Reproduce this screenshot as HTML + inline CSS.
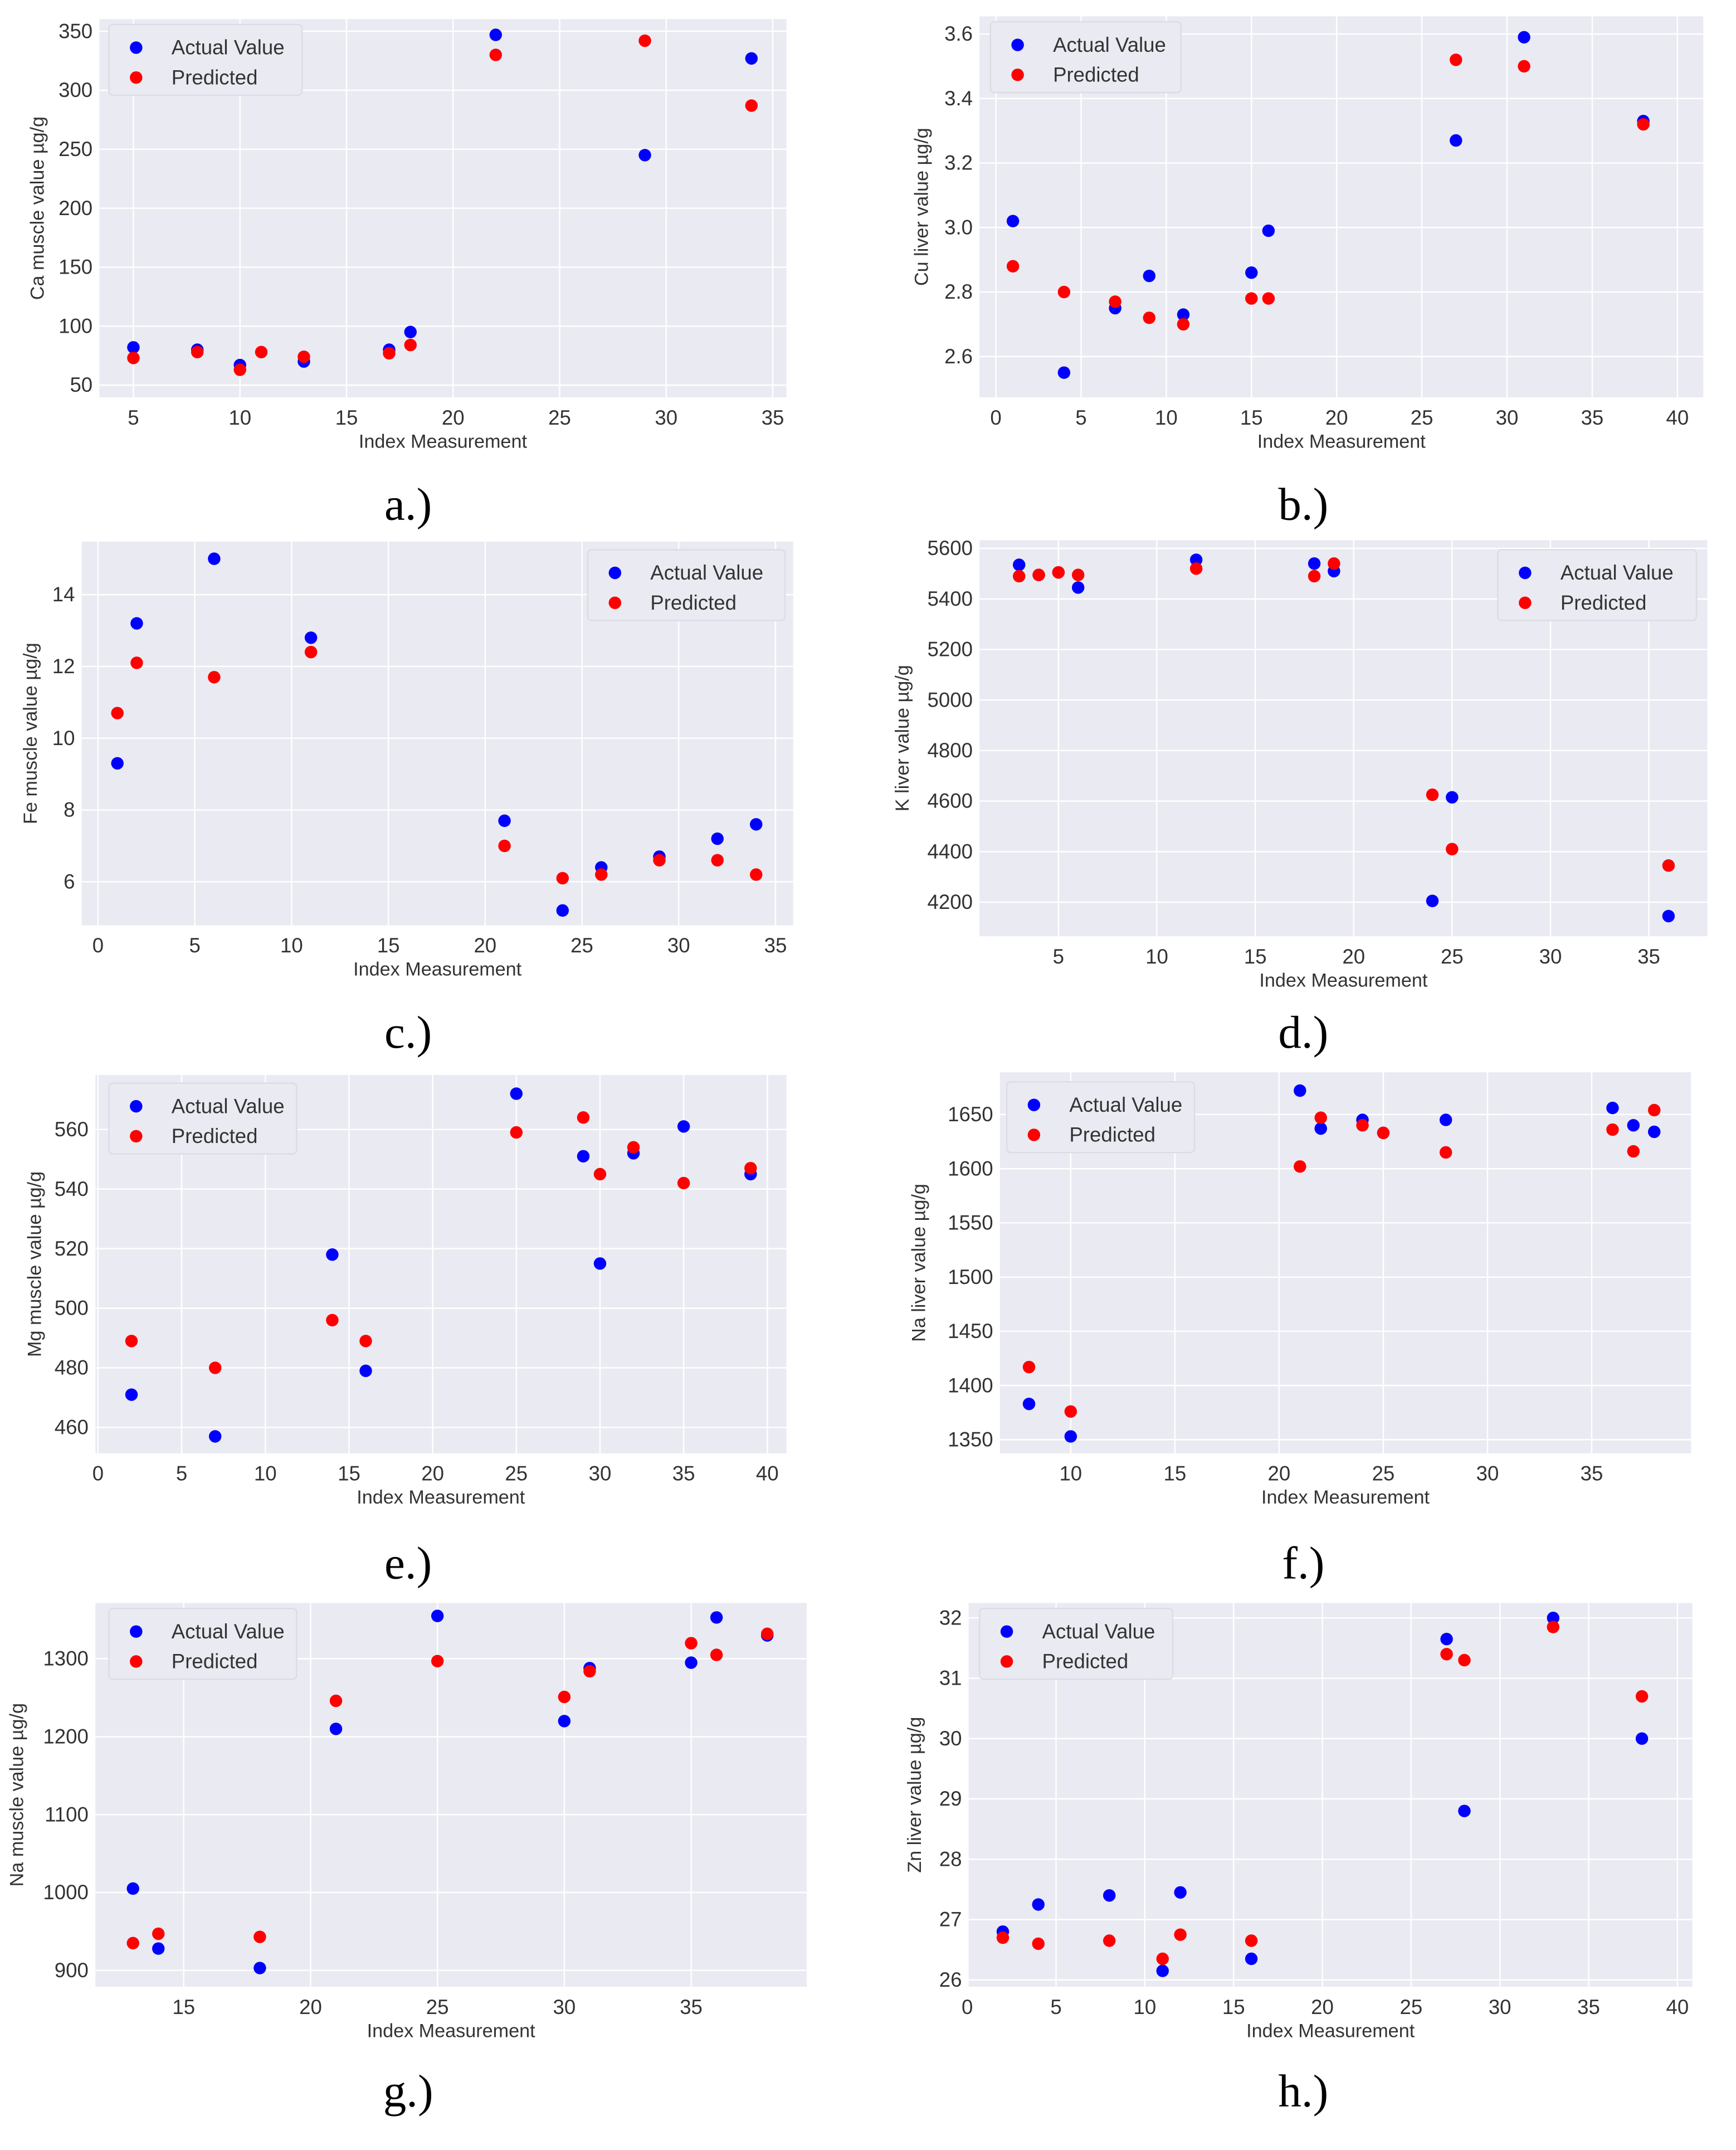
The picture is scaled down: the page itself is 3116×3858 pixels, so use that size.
<!DOCTYPE html>
<html><head><meta charset="utf-8"><style>
html,body{margin:0;padding:0;background:#fff;}
svg{display:block;}
</style></head><body>
<svg id="fig" width="3116" height="3858" viewBox="0 0 1276 1580" xmlns="http://www.w3.org/2000/svg" font-family="Liberation Sans, sans-serif"></svg>
<script>
// ---- data ----
const aActX=[5,8,10,13,17,18,22,29,34];
const aActY=[82,80,67,70,80,95,347,245,327];
const aPredX=[5,8,10,11,13,17,18,22,29,34];
const aPredY=[73,78,63,78,74,77,84,330,342,287];
const bX=[1,4,7,9,11,15,16,27,31,38];
const bAct=[3.02,2.55,2.75,2.85,2.73,2.86,2.99,3.27,3.59,3.33];
const bPred=[2.88,2.80,2.77,2.72,2.70,2.78,2.78,3.52,3.50,3.32];
const cX=[1,2,6,11,21,24,26,29,32,34];
const cAct=[9.3,13.2,15.0,12.8,7.7,5.2,6.4,6.7,7.2,7.6];
const cPred=[10.7,12.1,11.7,12.4,7.0,6.1,6.2,6.6,6.6,6.2];
const dX=[3,4,5,6,12,18,19,24,25,36];
const dAct=[5535,5495,5505,5445,5555,5540,5510,4205,4615,4145];
const dPred=[5490,5495,5505,5495,5520,5490,5540,4625,4410,4345];
const eX=[2,7,14,16,25,29,30,32,35,39];
const eAct=[471,457,518,479,572,551,515,552,561,545];
const ePred=[489,480,496,489,559,564,545,554,542,547];
const fX=[8,10,21,22,24,25,28,36,37,38];
const fAct=[1383,1353,1672,1637,1645,1633,1645,1656,1640,1634];
const fPred=[1417,1376,1602,1647,1640,1633,1615,1636,1616,1654];
const gX=[13,14,18,21,25,30,31,35,36,38];
const gAct=[1005,928,903,1210,1355,1220,1288,1295,1353,1330];
const gPred=[935,947,943,1246,1297,1251,1284,1320,1305,1332];
const hX=[2,4,8,11,12,16,27,28,33,38];
const hAct=[26.8,27.25,27.4,26.15,27.45,26.35,31.65,28.8,32.0,30.0];
const hPred=[26.7,26.6,26.65,26.35,26.75,26.65,31.4,31.3,31.85,30.7];
const aXT=[5,10,15,20,25,30,35], aYT=[50,100,150,200,250,300,350];
const bXT=[0,5,10,15,20,25,30,35,40], bYT=[2.6,2.8,3.0,3.2,3.4,3.6];
const cXT=[0,5,10,15,20,25,30,35], cYT=[6,8,10,12,14];
const dXT=[5,10,15,20,25,30,35], dYT=[4200,4400,4600,4800,5000,5200,5400,5600];
const eXT=[0,5,10,15,20,25,30,35,40], eYT=[460,480,500,520,540,560];
const fXT=[10,15,20,25,30,35], fYT=[1350,1400,1450,1500,1550,1600,1650];
const gXT=[15,20,25,30,35], gYT=[900,1000,1100,1200,1300];
const hXT=[0,5,10,15,20,25,30,35,40], hYT=[26,27,28,29,30,31,32];

const NS="http://www.w3.org/2000/svg";
const svg=document.getElementById('fig');
function mk(tag,attrs,parent){const e=document.createElementNS(NS,tag);for(const k in attrs)e.setAttribute(k,attrs[k]);(parent||svg).appendChild(e);return e;}

function panel(p){
  const g=mk('g',{});
  
  
  const X=v=>p.xa[0]+(v-p.xa[1])*(p.xa[2]-p.xa[0])/(p.xa[3]-p.xa[1]);
  const Y=v=>p.ya[0]+(v-p.ya[1])*(p.ya[2]-p.ya[0])/(p.ya[3]-p.ya[1]);
  const bg=mk('rect',{x:p.L,y:p.T,width:p.R-p.L,height:p.B-p.T,fill:'#eaeaf2'},g);
  
  
  p.xt.forEach(t=>{const x=X(t);
    mk('line',{x1:x,x2:x,y1:p.T,y2:p.B,stroke:'#fff','stroke-width':1},g);
    const tx=mk('text',{x:x,y:p.B+20,'text-anchor':'middle','font-size':15,fill:'#333'},g);tx.textContent=t;
    
    });
  p.yt.forEach(t=>{const y=Y(t);
    mk('line',{x1:p.L,x2:p.R,y1:y,y2:y,stroke:'#fff','stroke-width':1},g);
    const tx=mk('text',{x:p.L-5,y:y+5,'text-anchor':'end','font-size':15,fill:'#333'},g);tx.textContent=p.fmt?p.fmt(t):t;
    
    });
  const xl=mk('text',{x:(p.L+p.R)/2,y:p.B+37,'text-anchor':'middle','font-size':14,fill:'#333'},g);xl.textContent='Index Measurement';
  
  
  const cy=(p.T+p.B)/2;
  const yl=mk('text',{x:p.ylx,y:cy,'text-anchor':'middle','font-size':14,fill:'#333',transform:`rotate(-90 ${p.ylx} ${cy})`},g);yl.textContent=p.ylabel;
  
  
  p.ax.forEach((v,i)=>{const c=mk('circle',{cx:X(v),cy:Y(p.ay[i]),r:4.6,fill:'#0000ff'},g);
    
    });
  p.px.forEach((v,i)=>{const c=mk('circle',{cx:X(v),cy:Y(p.py[i]),r:4.6,fill:'#ff0000'},g);
    
    });
  const lg=mk('g',{},g);
  
  
  mk('rect',{x:p.lg[0],y:p.lg[1],width:p.lg[2],height:52,fill:'#eaeaf2',stroke:'#dcdce6','stroke-width':1,rx:3},lg);
  [['Actual Value','#0000ff',17],['Predicted','#ff0000',39]].forEach(([t,col,dy])=>{
    mk('circle',{cx:p.lg[0]+20,cy:p.lg[1]+dy,r:4.6,fill:col},lg);
    const tx=mk('text',{x:p.lg[0]+46,y:p.lg[1]+dy+5,'font-size':15,fill:'#333'},lg);tx.textContent=t;
    
    });
  const cap=mk('text',{x:p.cap[0],y:p.cap[1],'text-anchor':'middle','font-size':34,'font-family':'Liberation Serif, serif',fill:'#000'},g);
  cap.textContent=p.id+'.)';
  
  
}
const f1=t=>t.toFixed(1);
panel({id:'a',L:73,R:578,T:14,B:292,xa:[98,5,568,35],ya:[283,50,23,350],xt:aXT,yt:aYT,ax:aActX,ay:aActY,px:aPredX,py:aPredY,ylabel:'Ca muscle value µg/g',ylx:32,lg:[80,18,142],cap:[300,382]});
panel({id:'b',L:720,R:1252,T:12,B:292,xa:[732,0,1233,40],ya:[262,2.6,25,3.6],xt:bXT,yt:bYT,fmt:f1,ax:bX,ay:bAct,px:bX,py:bPred,ylabel:'Cu liver value µg/g',ylx:682,lg:[728,16,140],cap:[958,382]});
panel({id:'c',L:60,R:583,T:398,B:680,xa:[72,0,570,35],ya:[648,6,437,14],xt:cXT,yt:cYT,ax:cX,ay:cAct,px:cX,py:cPred,ylabel:'Fe muscle value µg/g',ylx:27,lg:[432,404,145],cap:[300,770]});
panel({id:'d',L:720,R:1255,T:397,B:688,xa:[778,5,1212,35],ya:[663,4200,403,5600],xt:dXT,yt:dYT,ax:dX,ay:dAct,px:dX,py:dPred,ylabel:'K liver value µg/g',ylx:668,lg:[1101,404,146],cap:[958,770]});
panel({id:'e',L:70,R:578,T:790,B:1068,xa:[72,0,564,40],ya:[1049,460,830,560],xt:eXT,yt:eYT,ax:eX,ay:eAct,px:eX,py:ePred,ylabel:'Mg muscle value µg/g',ylx:30,lg:[80,796,138],cap:[300,1160]});
panel({id:'f',L:735,R:1243,T:788,B:1068,xa:[787,10,1170,35],ya:[1058,1350,819,1650],xt:fXT,yt:fYT,ax:fX,ay:fAct,px:fX,py:fPred,ylabel:'Na liver value µg/g',ylx:680,lg:[740,795,138],cap:[958,1160]});
panel({id:'g',L:70,R:593,T:1178,B:1460,xa:[135,15,508,35],ya:[1448,900,1219,1300],xt:gXT,yt:gYT,ax:gX,ay:gAct,px:gX,py:gPred,ylabel:'Na muscle value µg/g',ylx:17,lg:[80,1182,138],cap:[300,1548]});
panel({id:'h',L:712,R:1244,T:1178,B:1460,xa:[711,0,1233,40],ya:[1455,26,1189,32],xt:hXT,yt:hYT,ax:hX,ay:hAct,px:hX,py:hPred,ylabel:'Zn liver value µg/g',ylx:677,lg:[720,1182,142],cap:[958,1548]});
</script>
</body></html>
